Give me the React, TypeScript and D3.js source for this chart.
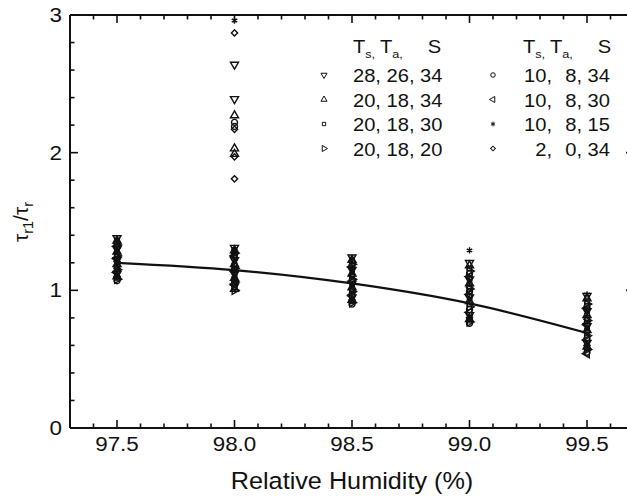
import React from 'react';
import * as d3 from 'd3';

// ---- data ----
const RH = [97.5, 98.0, 98.5, 99.0, 99.5];
const xMajorTicks = [97.5, 98.0, 98.5, 99.0, 99.5];
const xTickLabels = ['97.5', '98.0', '98.5', '99.0', '99.5'];
const yMajorTicks = [0, 1, 2, 3];
const yTickLabels = ['0', '1', '2', '3'];

const legendTs = ['28', '20', '20', '20', '10', '10', '10', '2'];
const legendTa = ['26', '18', '18', '18', '8', '8', '8', '0'];
const legendS = ['34', '34', '30', '20', '34', '30', '15', '34'];

// values per series, one list per RH column
const s28_26_34 = [
  [1.38, 1.3, 1.22, 1.12],
  [2.64, 2.39, 1.31, 1.22, 1.12, 1.03],
  [1.24, 1.15, 1.05, 0.95],
  [1.2, 1.08, 0.95, 0.82],
  [0.96, 0.85, 0.74, 0.62],
];
const s20_18_34 = [
  [1.36, 1.28, 1.19, 1.1],
  [2.27, 2.03, 1.99, 1.29, 1.19, 1.09, 1.01],
  [1.22, 1.12, 1.02, 0.93],
  [1.18, 1.05, 0.92, 0.79],
  [0.94, 0.82, 0.71, 0.59],
];
const s20_18_30 = [
  [1.35, 1.26, 1.17, 1.09],
  [1.28, 1.18, 1.08, 1.02],
  [1.21, 1.1, 1.0, 0.92],
  [1.16, 1.03, 0.9, 0.78],
  [0.92, 0.8, 0.69, 0.58],
];
const s20_18_20 = [
  [1.33, 1.25, 1.15, 1.08],
  [1.27, 1.16, 1.06, 1.0],
  [1.19, 1.08, 0.99, 0.91],
  [1.14, 1.01, 0.88, 0.77],
  [0.9, 0.78, 0.67, 0.57],
];
const s10_8_34 = [
  [1.34, 1.24, 1.14, 1.07],
  [2.22, 2.19, 1.26, 1.15, 1.05],
  [1.18, 1.07, 0.97, 0.9],
  [1.12, 0.99, 0.86, 0.76],
  [0.88, 0.76, 0.65, 0.55],
];
const s10_8_30 = [
  [1.32, 1.23, 1.13],
  [1.25, 1.14, 1.04],
  [1.17, 1.06, 0.96],
  [1.1, 0.97, 0.84],
  [0.87, 0.75, 0.64, 0.54],
];
const s10_8_15 = [
  [1.37, 1.29, 1.2, 1.11],
  [2.96, 1.3, 1.21, 1.11],
  [1.23, 1.14, 1.04, 0.94],
  [1.29, 1.07, 0.94, 0.81],
  [0.97, 0.84, 0.73, 0.61],
];
const s2_0_34 = [
  [1.31, 1.21, 1.16, 1.1],
  [2.87, 2.17, 1.97, 1.81, 1.24, 1.13, 1.07],
  [1.16, 1.11, 1.01, 0.93],
  [1.09, 1.02, 0.96, 0.8],
  [0.86, 0.79, 0.7, 0.6],
];

const fitRH = [97.5, 98.0, 98.5, 99.0, 99.5];
const fitValues = [1.2, 1.147, 1.05, 0.905, 0.69];

// ---- layout ----
const W = 627;
const H = 503;
const FONT = "'Liberation Sans', Arial, Helvetica, sans-serif";
const SX = 1.15;

const x = d3.scaleLinear().domain([97.3, 99.7]).range([70, 634]);
const y = d3.scaleLinear().domain([0, 3]).range([428, 15]);

type Sym = { type: d3.SymbolType; rot: number };
const symbols: Sym[] = [
  { type: d3.symbolTriangle, rot: 180 },
  { type: d3.symbolTriangle, rot: 0 },
  { type: d3.symbolSquare, rot: 0 },
  { type: d3.symbolTriangle, rot: 90 },
  { type: d3.symbolCircle, rot: 0 },
  { type: d3.symbolTriangle, rot: -90 },
  { type: d3.symbolAsterisk, rot: 0 },
  { type: d3.symbolSquare, rot: 45 },
];
const allSeries = [s28_26_34, s20_18_34, s20_18_30, s20_18_20, s10_8_34, s10_8_30, s10_8_15, s2_0_34];

function Marker({ cx, cy, i, size, sw }: { cx: number; cy: number; i: number; size: number; sw: number }) {
  const s = symbols[i];
  const p = d3.symbol(s.type, s.type === d3.symbolSquare ? size * 0.7 : size)() || '';
  return (
    <path
      d={p}
      transform={`translate(${cx},${cy}) rotate(${s.rot})`}
      fill="none"
      stroke="#111"
      strokeWidth={sw}
    />
  );
}

function SText({ x0, y0, size, anchor, children }: any) {
  return (
    <text
      transform={`translate(${x0},${y0}) scale(${SX},1)`}
      fontSize={size}
      textAnchor={anchor || 'start'}
      fontFamily={FONT}
      fill="#111"
    >
      {children}
    </text>
  );
}

export default function App() {
  const xMinor = d3.range(97.4, 99.71, 0.1).map((v) => +v.toFixed(1)).filter((v) => !xMajorTicks.includes(v));
  const yMinor = d3.range(0.2, 3.0, 0.2).map((v) => +v.toFixed(1)).filter((v) => !yMajorTicks.includes(v));
  const line = d3
    .line<number>()
    .x((_, i) => x(fitRH[i]))
    .y((d) => y(d))
    .curve(d3.curveMonotoneX);

  const x0 = x.range()[0];
  const x1 = x.range()[1];
  const yb = y(0);
  const yt = y(3);
  const major = 8;
  const minor = 4.5;

  const rowY = [75, 99.5, 124, 148.5];

  return (
    <div style={{ position: 'absolute', left: 0, top: 0 }}>
      <svg width={W} height={H} style={{ display: 'block', background: '#fff' }}>
        {/* frame */}
        <g stroke="#111" strokeWidth={2} fill="none">
          <line x1={x0} y1={yb} x2={x1} y2={yb} />
          <line x1={x0} y1={yt} x2={x1} y2={yt} />
          <line x1={x0} y1={yb} x2={x0} y2={yt} />
          <line x1={x1} y1={yb} x2={x1} y2={yt} />
        </g>
        {/* ticks */}
        <g stroke="#111" strokeWidth={1.6}>
          {xMajorTicks.map((v) => (
            <g key={'xm' + v}>
              <line x1={x(v)} x2={x(v)} y1={yb} y2={yb - major} />
              <line x1={x(v)} x2={x(v)} y1={yt} y2={yt + major} />
            </g>
          ))}
          {xMinor.map((v) => (
            <g key={'xn' + v}>
              <line x1={x(v)} x2={x(v)} y1={yb} y2={yb - minor} />
              <line x1={x(v)} x2={x(v)} y1={yt} y2={yt + minor} />
            </g>
          ))}
          {yMajorTicks.map((v) => (
            <g key={'ym' + v}>
              <line x1={x0} x2={x0 + major} y1={y(v)} y2={y(v)} />
              <line x1={x1} x2={x1 - major} y1={y(v)} y2={y(v)} />
            </g>
          ))}
          {yMinor.map((v) => (
            <g key={'yn' + v}>
              <line x1={x0} x2={x0 + minor} y1={y(v)} y2={y(v)} />
              <line x1={x1} x2={x1 - minor} y1={y(v)} y2={y(v)} />
            </g>
          ))}
        </g>
        {/* tick labels */}
        {xMajorTicks.map((v, i) => (
          <SText key={'xl' + v} x0={x(v)} y0={451} size={19.5} anchor="middle">
            {xTickLabels[i]}
          </SText>
        ))}
        {yMajorTicks.map((v, i) => (
          <SText key={'yl' + v} x0={62} y0={y(v) + 7} size={19.5} anchor="end">
            {yTickLabels[i]}
          </SText>
        ))}
        {/* axis titles */}
        <text
          transform={`translate(352,489) scale(1.03,1)`}
          fontSize={24.5}
          textAnchor="middle"
          fontFamily={FONT}
          fill="#111"
        >
          Relative Humidity (%)
        </text>
        <text
          transform="translate(28,222) rotate(-90)"
          fontSize={21}
          textAnchor="middle"
          fontFamily={FONT}
          fill="#111"
        >
          τ<tspan fontSize={14.5} dy={5}>r1</tspan>
          <tspan dy={-5}>/τ</tspan>
          <tspan fontSize={14.5} dy={5}>r</tspan>
        </text>
        {/* data */}
        {allSeries.map((ser, si) =>
          ser.map((col, ci) =>
            col.map((v, k) => (
              <Marker key={`${si}-${ci}-${k}`} cx={x(RH[ci])} cy={y(v)} i={si} size={28} sw={1.4} />
            ))
          )
        )}
        {/* fit curve */}
        <path d={line(fitValues) || ''} fill="none" stroke="#111" strokeWidth={2.2} />
        {/* legend */}
        {[353, 523].map((lx) => (
          <text
            key={'hdr' + lx}
            transform={`translate(${lx},53) scale(${SX},1)`}
            fontSize={17.5}
            fontFamily={FONT}
            fill="#111"
          >
            T<tspan fontSize={11} dy={5}>s,</tspan>
            <tspan x={23.5} dy={-5}>T</tspan>
            <tspan fontSize={11} dy={5}>a,</tspan>
            <tspan x={65} dy={-5}>S</tspan>
          </text>
        ))}
        {legendTs.map((ts, i) => {
          const col = i < 4 ? 0 : 1;
          const r = i % 4;
          const cy = rowY[r];
          if (col === 0) {
            return (
              <g key={'lg' + i}>
                <Marker cx={324} cy={cy} i={i} size={16} sw={1} />
                <SText x0={353} y0={cy + 7} size={17.5}>
                  {`${ts}, ${legendTa[i]}, ${legendS[i]}`}
                </SText>
              </g>
            );
          }
          return (
            <g key={'lg' + i}>
              <Marker cx={493} cy={cy} i={i} size={16} sw={1} />
              <SText x0={552} y0={cy + 7} size={17.5} anchor="end">
                {`${ts},`}
              </SText>
              <SText x0={610} y0={cy + 7} size={17.5} anchor="end">
                {`${legendTa[i]}, ${legendS[i]}`}
              </SText>
            </g>
          );
        })}
      </svg>
    </div>
  );
}
